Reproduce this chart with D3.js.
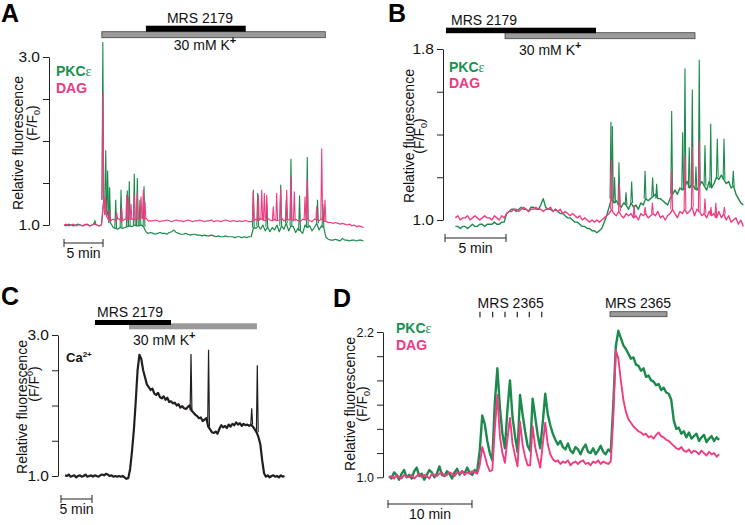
<!DOCTYPE html>
<html><head><meta charset="utf-8">
<script src="https://cdn.jsdelivr.net/npm/d3@7"></script>
<style>
html,body{margin:0;padding:0;background:#fff;}
text{font-family:"Liberation Sans",Arial,sans-serif;}
</style></head>
<body><svg id="c" width="745" height="525"></svg>
<script>
// ---------------- DATA ----------------
// Panel A: slow trace sampled every 0.3 min from t = 0; fast transients as [time (min), peak]
const aStart = 0, aStep = 0.3;
const aGreen = [1.00,0.99,1.01,1.00,0.99,1.00,1.01,1.00,0.99,1.00,1.01,0.99,1.00,
 1.02,1.00,0.99,1.00,
 1.30,1.20,1.10,1.02,0.97,0.96,0.95,0.97,0.96,0.97,0.98,0.99,0.98,1.00,0.99,0.99,1.00,0.98,0.92,
 0.90,0.91,0.90,0.89,0.90,0.91,0.90,0.90,0.89,0.91,0.92,
 0.94,0.91,0.90,0.89,0.89,0.90,0.89,0.88,0.89,0.89,0.88,
 0.88,0.87,0.88,0.87,0.87,0.88,0.87,0.86,0.87,0.86,0.86,0.87,0.86,0.86,
 0.86,0.85,0.86,0.86,0.85,0.86,0.85,0.86,0.86,
 0.97,0.96,0.99,0.95,1.00,0.93,0.98,0.92,0.97,0.94,1.00,0.92,0.99,0.95,1.02,0.93,0.99,0.98,0.91,0.96,0.93,0.90,1.00,0.97,0.99,0.93,0.97,1.02,0.94,0.99,0.97,
 0.85,0.83,0.82,0.82,0.83,0.82,0.81,0.84,0.82,0.82,0.81,0.82,0.82,0.81,0.82,0.82,0.81];
const aGreenSpikes = [[3.97,1.05],[4.98,3.18],[5.35,1.89],[5.6,1.65],[5.85,1.45],[6.63,1.30],[7.31,1.42],[8.12,1.41],[8.37,1.52],
 [9.01,1.61],[9.4,1.56],[9.74,1.30],[10.26,1.46],
 [24.27,1.42],[24.83,1.38],[26.0,1.25],[27.78,1.48],[28.5,1.30],[29.1,1.79],[30.2,1.35],[31.19,1.81],[32.5,1.30],[33.2,1.25]];
const aPink = [1.00,1.01,0.99,1.00,1.01,0.99,1.00,1.00,0.99,1.01,1.00,0.99,1.00,1.01,1.00,0.99,1.00,
 1.30,1.12,1.06,1.05,1.07,1.05,1.08,1.06,1.05,1.07,1.06,1.08,1.07,1.06,1.08,1.07,1.09,1.07,1.08,1.05,
 1.05,1.05,1.06,1.05,1.04,1.05,1.05,1.06,1.05,1.04,1.05,1.06,1.05,1.05,1.04,1.05,1.06,1.05,1.04,1.05,1.05,1.06,
 1.05,1.04,1.05,1.05,1.06,1.04,1.05,1.05,1.04,1.05,1.06,1.05,1.04,1.05,1.05,1.04,1.05,1.04,1.05,1.05,1.04,1.04,
 1.05,1.07,1.05,1.08,1.06,1.05,1.08,1.06,1.05,1.07,1.05,1.06,1.08,1.05,1.07,1.06,1.08,1.05,1.07,1.05,1.04,1.07,1.06,1.08,1.05,1.04,1.07,1.06,1.05,1.07,1.05,
 1.04,1.03,1.03,1.02,1.03,1.02,1.01,1.02,1.01,1.00,1.01,0.99,1.00,0.98,0.99,0.98,0.97];
const aPinkSpikes = [[4.98,2.57],[5.3,1.34],[5.85,1.18],[6.75,1.15],[7.4,1.20],[8.04,1.36],[8.24,1.34],[8.59,1.25],[9.01,1.36],
 [9.4,1.38],[9.87,1.34],[10.17,1.42],[10.38,1.28],
 [24.27,1.40],[24.91,1.36],[25.35,1.42],[25.68,1.38],[25.99,1.36],[26.83,1.22],[27.27,1.38],[27.78,1.44],[28.55,1.42],
 [29.1,1.58],[29.53,1.40],[30.9,1.34],[31.19,1.55],[32.4,1.22],[33.04,1.91],[33.46,1.30]];
const aTicks = [1.0,1.5,2.0,2.5,3.0], aTickLabels = ["1.0","","","","3.0"];
const aK = [4.85,33.5], aMRS = [10.5,23.3];

// Panel B: every 0.2 min from t = 0.85
const bStart = 0.85, bStep = 0.2;
const bGreen = [0.97,0.97,0.96,0.97,0.97,0.96,0.97,0.98,0.97,0.97,0.98,0.98,0.97,0.98,0.98,0.98,0.99,0.98,0.98,0.99,0.99,
 1.03,1.04,1.05,1.05,1.04,1.05,1.06,1.05,1.05,1.04,1.06,1.06,1.05,1.05,1.07,1.10,1.06,1.05,1.05,1.04,1.05,
 1.04,1.03,1.03,1.02,1.01,1.01,1.00,0.99,0.99,0.98,0.97,0.97,0.96,0.96,0.95,0.95,0.94,0.95,0.96,0.99,
 1.02,1.06,1.10,1.08,1.09,1.07,1.06,1.08,1.07,1.05,1.08,1.06,1.07,1.05,1.08,1.07,1.10,1.09,1.10,1.11,1.12,1.10,1.10,1.09,1.08,
 1.07,1.10,1.12,1.14,1.12,1.15,1.14,1.16,1.18,1.15,1.17,1.15,1.14,1.16,1.18,1.16,1.14,1.18,1.15,1.17,1.20,1.19,1.21,1.19,1.17,1.18,1.15,1.16,1.12,1.10,1.08,1.07];
const bGreenSpikes = [[13.6,1.46],[13.72,1.44],[13.9,1.20],[14.26,1.27],[14.84,1.13],[15.3,1.18],[16.4,1.23],[17.02,1.20],[17.35,1.17],
 [18.58,1.51],[19.48,1.41],[19.67,1.71],[20.02,1.34],[20.27,1.61],[20.57,1.25],[20.84,1.75],[21.31,1.35],[21.78,1.45],
 [22.32,1.38],[22.87,1.38],[23.63,1.23]];
const bPink = [1.01,1.02,1.00,1.01,1.01,1.02,1.00,1.01,1.02,1.01,1.00,1.01,1.02,1.01,1.01,1.00,1.02,1.01,1.00,1.02,1.01,
 1.03,1.04,1.04,1.05,1.05,1.04,1.05,1.06,1.05,1.04,1.05,1.05,1.06,1.05,1.05,1.04,1.05,1.05,1.06,1.04,1.05,
 1.04,1.05,1.03,1.04,1.03,1.02,1.03,1.02,1.01,1.02,1.00,1.01,1.00,0.99,1.00,0.99,1.00,0.99,1.00,1.01,
 1.02,1.03,1.05,1.03,1.02,1.04,1.02,1.01,1.03,1.02,1.03,1.01,1.02,1.00,1.03,1.02,1.03,1.01,1.02,1.03,1.02,1.04,1.01,1.02,1.00,
 1.02,1.03,1.05,1.03,1.01,1.04,1.03,1.05,1.03,1.04,1.06,1.02,1.05,1.04,1.02,1.03,1.01,1.04,1.02,1.03,1.01,1.04,1.01,1.03,1.00,1.02,0.99,1.00,1.01,0.98,1.00,0.97];
const bPinkSpikes = [[13.65,1.28],[14.3,1.17],[15.5,1.07],[16.4,1.06],[17.0,1.08],[18.58,1.23],[19.67,1.30],[20.27,1.34],
 [20.84,1.37],[21.31,1.10],[21.8,1.06],[22.2,1.08],[22.9,1.06]];
const bTicks = [1.0,1.2,1.4,1.6,1.8], bTickLabels = ["1.0","","","","1.8"];
const bMRS = [0.08,12.38], bK = [4.92,20.49];

// Panel C: every 0.3 min from t = 0.65
const cStart = 0.65, cStep = 0.3;
const cCa = [1.01,1.00,1.02,0.99,1.00,1.01,0.98,1.00,1.01,0.99,1.00,1.02,0.99,1.00,1.01,0.99,1.01,1.00,0.99,1.01,1.02,1.01,1.03,1.02,1.00,1.01,0.99,1.00,0.99,1.00,0.99,1.00,0.98,
 0.96,0.97,1.10,1.35,1.65,2.05,2.50,2.72,2.66,2.50,2.40,
 2.30,2.26,2.22,2.24,2.17,2.15,2.18,2.12,2.10,2.13,2.08,2.11,2.05,2.06,2.03,2.04,2.00,2.02,1.97,1.99,1.96,1.95,1.98,2.00,
 1.93,1.90,1.87,1.85,1.82,1.83,1.78,1.80,1.82,1.70,1.66,1.62,1.61,1.63,1.60,1.67,1.72,1.69,1.71,1.68,1.73,1.70,1.74,1.72,1.76,1.73,1.75,1.71,1.74,1.72,1.73,1.71,
 1.73,1.70,1.66,1.62,1.55,1.45,1.22,1.04,0.99,1.01,0.98,1.00,1.01,0.99,1.00,0.98,1.01,0.99,1.00];
const cSpikes = [[20.97,2.73],[23.8,2.79],[30.76,1.96],[31.66,2.57]];
const cTicks = [1.0,1.5,2.0,2.5,3.0], cTickLabels = ["1.0","","","","3.0"];
const cMRS = [5.48,17.74], cK = [10.97,31.6];

// Panel D: every 0.3 min from t = 0.12
const dStart = 0.12, dStep = 0.3;
const dGreen = [1.01,0.99,1.04,1.02,0.98,1.03,1.06,1.00,1.02,0.99,1.05,1.08,1.01,1.03,0.98,1.02,1.06,1.04,1.00,1.03,1.09,1.02,1.01,1.05,1.03,0.99,1.04,1.07,1.02,1.05,1.03,1.08,1.04,1.02,1.06,1.05,
 1.22,1.51,1.44,1.30,1.20,1.14,1.62,1.90,1.58,1.36,1.24,1.56,1.80,1.50,1.34,1.21,1.68,1.52,1.38,1.26,1.22,1.65,1.50,1.35,1.24,1.45,1.69,1.52,1.43,
 1.36,1.31,1.27,1.30,1.25,1.23,1.28,1.22,1.20,1.25,1.23,1.19,1.24,1.27,1.21,1.20,1.24,1.19,1.22,1.26,1.21,1.19,1.23,1.21,
 1.60,2.08,2.21,2.15,2.09,2.06,2.02,1.98,1.99,1.93,1.92,1.88,1.90,1.83,1.84,1.80,1.79,1.76,1.77,1.72,1.74,1.70,1.69,1.64,
 1.47,1.40,1.41,1.36,1.38,1.33,1.37,1.32,1.34,1.36,1.30,1.33,1.35,1.29,1.32,1.34,1.30,1.33,1.31];
const dPink = [1.00,1.01,0.99,1.02,1.00,0.99,1.02,1.01,1.00,1.02,0.99,1.01,1.03,1.00,1.02,1.01,0.99,1.03,1.02,1.01,1.03,1.04,1.01,1.02,1.04,1.03,1.01,1.04,1.03,1.05,1.02,1.04,1.03,1.05,1.04,1.03,
 1.10,1.25,1.18,1.10,1.05,1.06,1.40,1.68,1.34,1.20,1.12,1.32,1.49,1.28,1.18,1.09,1.46,1.27,1.17,1.10,1.10,1.42,1.25,1.16,1.08,1.27,1.45,1.27,1.19,
 1.15,1.13,1.14,1.11,1.13,1.12,1.14,1.10,1.12,1.13,1.11,1.13,1.14,1.11,1.12,1.10,1.13,1.12,1.14,1.11,1.13,1.12,1.11,1.13,
 1.50,2.05,1.98,1.80,1.64,1.54,1.48,1.45,1.42,1.40,1.38,1.37,1.35,1.36,1.33,1.34,1.32,1.35,1.37,1.34,1.33,1.31,1.30,1.28,
 1.26,1.24,1.23,1.25,1.22,1.21,1.23,1.20,1.22,1.21,1.19,1.22,1.20,1.18,1.21,1.19,1.20,1.17,1.19];
const dTicks = [1.0,1.2,1.4,1.6,1.8,2.0,2.2], dTickLabels = ["1.0","","","","","","2.2"];
const dPulses = [10.95,12.46,13.93,15.39,16.82,18.30], dMRSbar = [26.43,33.21];

// ---------------- DRAW ----------------
const GREEN = "#1b8a4c", PINK = "#ee3d83", GREEN_T = "#179150", PINK_T = "#ec3a82";
const svg = d3.select("#c");
svg.append("rect").attr("width",745).attr("height",525).attr("fill","#fff");

function trace(g, data, start, step, x, y, color, w){
  const line = d3.line().x((d,i)=>x(start+i*step)).y(d=>y(d));
  g.append("path").datum(data).attr("d",line).attr("fill","none")
   .attr("stroke",color).attr("stroke-width",w).attr("stroke-linejoin","round");
}
function spikes(g, list, base, start, step, x, y, color, w){
  const baseAt = t => base[Math.max(0, Math.min(base.length-1, Math.round((t-start)/step)))];
  g.selectAll(null).data(list).enter().append("path")
   .attr("d", d => `M${x(d[0])-0.9},${y(baseAt(d[0]))}L${x(d[0])},${y(d[1])}L${x(d[0])+0.9},${y(baseAt(d[0]))}`)
   .attr("fill","none").attr("stroke",color).attr("stroke-width",w).attr("stroke-linejoin","miter");
}
function yAxis(g, y, x0, ticks, labels, fs){
  const ax = d3.axisLeft(y).tickValues(ticks).tickFormat((d,i)=>labels[i]).tickSize(6).tickSizeOuter(0).tickPadding(3);
  const a = g.append("g").attr("transform",`translate(${x0},0)`).call(ax);
  a.selectAll("path,line").attr("stroke","#222").attr("stroke-width",1);
  a.selectAll("text").attr("font-size",fs).attr("fill","#111").attr("font-family","Liberation Sans, Arial, sans-serif");
}
function yTitle(g, x1, y1, x2, y2, sup){
  g.append("text").attr("transform",`translate(${x1},${y1}) rotate(-90)`).attr("text-anchor","middle")
   .attr("font-size",14).attr("fill","#111").text("Relative fluorescence");
  const t = g.append("text").attr("transform",`translate(${x2},${y2}) rotate(-90)`).attr("text-anchor","middle")
   .attr("font-size",14).attr("fill","#111");
  t.append("tspan").text("(F/F");
  t.append("tspan").attr("font-size",9).attr("dy", sup ? -6 : 3).text("0");
  t.append("tspan").attr("dy", sup ? 6 : -3).text(")");
}
function scaleBar(g, x, len, yb, label){
  g.append("line").attr("x1",x(0)).attr("x2",x(len)).attr("y1",yb).attr("y2",yb).attr("stroke","#222");
  [0,len].forEach(v=>g.append("line").attr("x1",x(v)).attr("x2",x(v)).attr("y1",yb-4).attr("y2",yb+4).attr("stroke","#222"));
  g.append("text").attr("x",(x(0)+x(len))/2).attr("y",yb+14.5).attr("text-anchor","middle").attr("font-size",14).attr("fill","#111").text(label);
}
function bar(g, x, iv, y0, h, fill, stroke){
  g.append("rect").attr("x",x(iv[0])).attr("width",x(iv[1])-x(iv[0])).attr("y",y0).attr("height",h)
   .attr("fill",fill).attr("stroke",stroke||"none").attr("stroke-width",stroke?0.8:0);
}
function kText(g, xpos, ypos, anchor){
  const t = g.append("text").attr("x",xpos).attr("y",ypos).attr("text-anchor",anchor).attr("font-size",14).attr("fill","#111");
  t.append("tspan").text("30 mM K");
  t.append("tspan").attr("font-size",11).attr("dy",-6).attr("font-weight","bold").text("+");
}
function legend(g, x0, y1, y2){
  const t = g.append("text").attr("x",x0).attr("y",y1).attr("font-size",14).attr("font-weight","bold").attr("fill",GREEN_T);
  t.append("tspan").text("PKC");
  t.append("tspan").attr("font-weight","normal").attr("font-family","Liberation Serif, serif").attr("font-size",14).text("ε");
  g.append("text").attr("x",x0).attr("y",y2).attr("font-size",14).attr("font-weight","bold").attr("fill",PINK_T).text("DAG");
}
function panelLabel(x0,y0,s){
  svg.append("text").attr("x",x0).attr("y",y0).attr("font-size",25).attr("font-weight","bold").attr("fill","#000").text(s);
}

// Panel A
{
  const g = svg.append("g");
  const x = d3.scaleLinear().domain([0,5]).range([64,103]);
  const y = d3.scaleLinear().domain([1.0,3.0]).range([225,57]);
  panelLabel(1,22,"A");
  bar(g,x,aK,31.7,6,"#9a9a9a","#444");
  bar(g,x,aMRS,25.7,6,"#000");
  g.append("text").attr("x",200).attr("y",23).attr("text-anchor","middle").attr("font-size",14).attr("fill","#111").text("MRS 2179");
  kText(g,205,50,"middle");
  trace(g,aGreen,aStart,aStep,x,y,GREEN,1.2);
  spikes(g,aGreenSpikes,aGreen,aStart,aStep,x,y,GREEN,1.1);
  trace(g,aPink,aStart,aStep,x,y,PINK,1.2);
  spikes(g,aPinkSpikes,aPink,aStart,aStep,x,y,PINK,1.1);
  yAxis(g,y,49,aTicks,aTickLabels,15.5);
  yTitle(g,23,143,37,123,false);
  legend(g,56,75.5,93);
  scaleBar(g,x,5,243,"5 min");
}
// Panel B
{
  const g = svg.append("g");
  const x = d3.scaleLinear().domain([0,5]).range([445,506]);
  const y = d3.scaleLinear().domain([1.0,1.8]).range([220,49]);
  panelLabel(388,22,"B");
  bar(g,x,bK,32.7,6,"#9a9a9a","#444");
  bar(g,x,bMRS,27.7,5.5,"#000");
  g.append("text").attr("x",451).attr("y",25).attr("font-size",14).attr("fill","#111").text("MRS 2179");
  kText(g,519,55,"start");
  trace(g,bGreen,bStart,bStep,x,y,GREEN,1.4);
  spikes(g,bGreenSpikes,bGreen,bStart,bStep,x,y,GREEN,1.1);
  trace(g,bPink,bStart,bStep,x,y,PINK,1.4);
  spikes(g,bPinkSpikes,bPink,bStart,bStep,x,y,PINK,1.1);
  yAxis(g,y,443,bTicks,bTickLabels,15.5);
  yTitle(g,414,136,424,136,false);
  legend(g,449,72,88);
  scaleBar(g,x,5,238,"5 min");
}
// Panel C
{
  const g = svg.append("g");
  const x = d3.scaleLinear().domain([0,5]).range([61,92]);
  const y = d3.scaleLinear().domain([1.0,3.0]).range([476,335]);
  panelLabel(1,305,"C");
  bar(g,x,cK,323.3,6,"#9a9a9a");
  bar(g,x,cMRS,320,5,"#000");
  g.append("text").attr("x",97).attr("y",317).attr("font-size",14).attr("fill","#111").text("MRS 2179");
  kText(g,133,345,"start");
  trace(g,cCa,cStart,cStep,x,y,"#231f20",2.2);
  spikes(g,cSpikes,cCa,cStart,cStep,x,y,"#231f20",1.2);
  yAxis(g,y,58,cTicks,cTickLabels,15.5);
  yTitle(g,27,407,39,384,true);
  const ca = g.append("text").attr("x",66).attr("y",362).attr("font-size",13).attr("font-weight","bold").attr("fill","#111");
  ca.append("tspan").text("Ca");
  ca.append("tspan").attr("font-size",8).attr("dy",-5).text("2+");
  scaleBar(g,x,5,499,"5 min");
}
// Panel D
{
  const g = svg.append("g");
  const x = d3.scaleLinear().domain([0,10]).range([388,472]);
  const y = d3.scaleLinear().domain([1.0,2.2]).range([477.3,332]);
  panelLabel(333,307,"D");
  g.append("text").attr("x",510.7).attr("y",308).attr("text-anchor","middle").attr("font-size",14).attr("fill","#111").text("MRS 2365");
  g.selectAll("line.pulse").data(dPulses).enter().append("line").attr("class","pulse")
   .attr("x1",d=>x(d)).attr("x2",d=>x(d)).attr("y1",311.7).attr("y2",317.3).attr("stroke","#222").attr("stroke-width",1.2);
  g.append("text").attr("x",638).attr("y",308).attr("text-anchor","middle").attr("font-size",14).attr("fill","#111").text("MRS 2365");
  bar(g,x,dMRSbar,311.7,5,"#9a9a9a","#444");
  trace(g,dGreen,dStart,dStep,x,y,GREEN,2.4);
  trace(g,dPink,dStart,dStep,x,y,PINK,1.9);
  yAxis(g,y,383,dTicks,dTickLabels,12.5);
  yTitle(g,355,404,367,404,false);
  legend(g,396,333,350);
  scaleBar(g,x,10,504,"10 min");
}
</script></body></html>
